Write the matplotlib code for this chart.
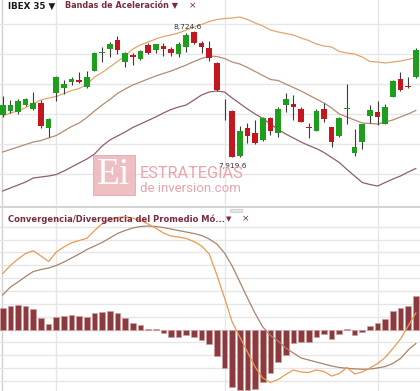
import matplotlib
matplotlib.use("Agg")
import matplotlib.pyplot as plt
from matplotlib.patches import Rectangle
import numpy as np

# IBEX 35 daily candles (price units)
opens = [8187.9, 8215.3, 8208.9, 8251.8, 8224.3, 8262.6, 8106.7, 8326.5, 8362.3, 8398.7,
         8411.5, 8368.7, 8470.9, 8582.1, 8607.6, 8667.1, 8528.4, 8571.2, 8543.7, 8635.1,
         8603.2, 8628.7, 8607.6, 8575.7, 8620.4, 8720.1, 8646.0, 8617.8, 8522.0, 8224.3,
         8215.3, 7925.0, 8106.7, 8075.4, 8028.1, 8170.6, 8070.9, 8251.8, 8258.1, 8226.2,
         8108.0, 8087.6, 8224.3, 8109.3, 8055.6, 8226.2, 7947.0, 8017.3, 8181.5, 8208.9,
         8130.4, 8304.8, 8416.0, 8373.1, 8428.7]
highs = [8309.3, 8283.7, 8290.0, 8296.5, 8332.9, 8283.7, 8168.7, 8437.0, 8411.5, 8432.6,
         8464.5, 8470.9, 8588.5, 8624.3, 8656.2, 8694.6, 8587.2, 8584.0, 8603.2, 8649.8,
         8641.5, 8646.0, 8620.4, 8652.4, 8709.9, 8724.6, 8662.6, 8660.7, 8526.5, 8288.2,
         8219.8, 8117.6, 8134.8, 8155.9, 8177.0, 8175.1, 8240.9, 8330.3, 8315.6, 8240.9,
         8138.7, 8224.3, 8266.5, 8111.2, 8175.1, 8384.0, 8096.5, 8130.4, 8251.8, 8277.3,
         8258.1, 8411.5, 8464.5, 8432.6, 8614.0]
lows = [8175.1, 8202.6, 8194.3, 8245.4, 8219.8, 8102.9, 8045.4, 8277.3, 8322.0, 8379.5,
        8390.4, 8358.5, 8469.0, 8528.4, 8560.3, 8575.7, 8496.5, 8507.3, 8539.3, 8577.6,
        8582.1, 8564.5, 8564.5, 8556.5, 8592.3, 8641.5, 8582.1, 8534.8, 8344.4, 8155.9,
        7919.6, 7922.0, 8007.1, 8002.6, 8021.7, 8060.1, 8045.4, 8208.9, 8155.9, 8143.1,
        8039.0, 8085.6, 8145.1, 7985.3, 8049.2, 8130.4, 7925.0, 7968.7, 8134.8, 8124.0,
        8127.2, 8301.0, 8344.4, 8362.3, 8427.4]
closes = [8251.8, 8251.8, 8277.3, 8288.2, 8266.5, 8117.6, 8162.3, 8428.7, 8385.9, 8419.8,
          8398.7, 8428.7, 8582.1, 8590.4, 8639.6, 8603.2, 8582.1, 8560.3, 8598.7, 8582.1,
          8639.6, 8607.6, 8585.9, 8639.6, 8699.0, 8646.0, 8620.4, 8550.1, 8347.6, 8224.3,
          7921.4, 8085.6, 8053.7, 8011.0, 8166.8, 8085.6, 8224.3, 8290.1, 8237.1, 8145.1,
          8104.8, 8215.3, 8160.4, 8013.5, 8170.6, 8229.4, 7981.5, 8128.4, 8219.8, 8177.0,
          8237.1, 8407.0, 8347.6, 8369.9, 8603.2]

# Bandas de Aceleracion
upper_band = [8181.5, 8200.6, 8213.4, 8235.8, 8261.3, 8283.7, 8296.5, 8306.1, 8325.2, 8344.4,
              8357.2, 8382.7, 8430.6, 8459.4, 8494.5, 8529.7, 8564.8, 8609.5, 8635.1, 8654.3,
              8673.4, 8689.4, 8699.0, 8711.8, 8730.9, 8750.1, 8766.1, 8785.2, 8798.0, 8804.4,
              8807.6, 8814.0, 8798.0, 8775.7, 8756.5, 8730.9, 8718.2, 8708.6, 8699.0, 8679.8,
              8663.8, 8641.5, 8628.7, 8622.3, 8593.6, 8584.0, 8577.6, 8558.4, 8529.7, 8526.5,
              8520.1, 8526.5, 8532.9, 8542.5, 8555.2]
middle_band = [7951.5, 7967.4, 7983.4, 7999.4, 8015.4, 8024.9, 8040.9, 8056.9, 8085.6, 8114.4,
               8136.8, 8171.9, 8213.4, 8251.8, 8286.9, 8325.2, 8354.0, 8379.5, 8398.7, 8417.9,
               8437.0, 8453.0, 8469.0, 8488.1, 8507.3, 8529.7, 8548.8, 8564.8, 8561.6, 8548.8,
               8526.5, 8513.7, 8491.3, 8465.8, 8440.2, 8414.7, 8408.3, 8385.9, 8363.6, 8341.2,
               8315.6, 8290.1, 8264.5, 8232.6, 8194.3, 8175.1, 8155.9, 8136.8, 8133.6, 8130.4,
               8143.1, 8155.9, 8175.1, 8194.3, 8216.6]
lower_band = [7702.3, 7721.5, 7740.6, 7759.8, 7785.4, 7791.7, 7798.1, 7807.7, 7830.1, 7855.6,
              7881.2, 7906.7, 7938.7, 7989.8, 8028.1, 8053.7, 8079.3, 8108.0, 8130.4, 8152.7,
              8175.1, 8200.6, 8223.0, 8239.0, 8251.8, 8283.7, 8315.6, 8334.8, 8341.2, 8334.8,
              8296.5, 8261.3, 8226.2, 8194.3, 8165.5, 8130.4, 8095.2, 8066.5, 8040.9, 8015.4,
              7993.0, 7973.8, 7948.3, 7916.3, 7884.4, 7839.7, 7798.1, 7756.6, 7743.8, 7734.2,
              7756.6, 7779.0, 7798.1, 7823.7, 7846.1]

# MACD panel
macd = [87.1, 99.6, 109.7, 118.3, 122.6, 114.4, 105.8, 120.6, 128.4, 134.9,
        138.5, 141.9, 154.0, 164.6, 171.9, 174.3, 175.5, 173.5, 170.1, 164.2,
        157.9, 150.2, 145.5, 143.9, 141.6, 136.9, 129.9, 117.5, 84.8, 49.0,
        11.7, -11.7, -35.0, -58.4, -75.5, -82.5, -77.8, -70.0, -63.0, -66.1,
        -66.9, -63.0, -65.4, -72.4, -68.5, -59.1, -69.2, -66.1, -59.9, -52.9,
        -43.6, -29.6, -14.8, 5.4, 25.7]
signal = [53.7, 66.1, 73.9, 82.5, 90.2, 93.4, 95.7, 99.6, 105.0, 111.3,
          117.5, 124.5, 129.9, 135.4, 142.4, 149.4, 154.0, 157.9, 160.3, 161.0,
          160.3, 158.7, 156.4, 154.0, 151.7, 149.4, 146.3, 140.8, 133.0, 119.0,
          98.8, 73.9, 49.0, 24.9, 3.9, -9.3, -17.9, -28.8, -36.6, -44.3,
          -47.5, -50.6, -53.7, -56.8, -59.1, -60.4, -61.2, -61.9, -61.5, -59.9,
          -57.6, -52.9, -45.1, -31.9, -21.8]
hist = [33.0, 37.0, 38.6, 37.0, 31.9, 17.4, 8.6, 19.9, 21.5, 23.0,
        20.5, 19.0, 25.2, 27.7, 29.3, 25.2, 18.4, 10.6, 6.5, 1.2,
        0.6, -5.0, -10.9, -10.9, -8.1, -10.9, -15.9, -22.9, -41.2, -60.4,
        -90.2, -93.4, -94.1, -92.6, -81.2, -68.2, -50.1, -39.7, -20.5, -19.9,
        -19.0, -11.2, -7.5, -15.2, -7.5, 1.5, -8.6, -3.4, 5.4, 9.6,
        15.9, 29.3, 33.9, 36.6, 52.1]

high_mark = (25, 8724.6)
low_mark = (30, 7919.6)
month_lines = [7, 29, 49]
price_grid = [7810.9, 8002.6, 8194.3, 8385.9, 8577.6, 8769.3]
macd_grid = np.arange(-80, 161, 20)

W, H = 420, 391
fig = plt.figure(figsize=(W / 100, H / 100), dpi=100)
fig.patch.set_facecolor('white')


def fx(px):
    return px / W


def fy(py):
    return 1 - py / H


ax1 = fig.add_axes([0, fy(206), 1, 206 / H])
ax2 = fig.add_axes([0, 0, 1, fy(208)])

idx = np.arange(len(closes))
grid_c = '#e6e6e6'

for ax in (ax1, ax2):
    ax.set_xlim(-0.353, 54.55)
    ax.set_xticks([])
    ax.set_yticks([])
    for s in ax.spines.values():
        s.set_visible(False)
    for m in month_lines:
        ax.axvline(m, color=grid_c, lw=1, zorder=0)
    ax.axvline(-0.13, color='#d0d0d0', lw=1, zorder=0)

# ---- top panel
ax1.set_ylim(7606.5, 8922.6)
for g in price_grid:
    ax1.axhline(g, color=grid_c, lw=1, zorder=0)

ax1.plot(idx, upper_band, color='#e3a56c', lw=0.9, zorder=2)
ax1.plot(idx, middle_band, color='#b58b70', lw=0.9, zorder=2)
ax1.plot(idx, lower_band, color='#8e5f6e', lw=0.9, zorder=2)

green, red, dark = '#1d9e1d', '#c3161f', '#333333'
for i in idx:
    o, h, l, c = opens[i], highs[i], lows[i], closes[i]
    if c > o:
        col = green
    elif c < o:
        col = red
    else:
        col = dark
    ax1.vlines(i, l, h, color='#3c3c3c', lw=0.8, zorder=3)
    ax1.bar(i, max(abs(c - o), 5), bottom=min(o, c), width=0.74, color=col,
            lw=0, zorder=4)

ax1.annotate('8,724.6', xy=high_mark, xytext=(-4.3, 3.1), textcoords='offset points',
             ha='center', va='center', fontsize=5.4, color='#333333', zorder=9)
ax1.annotate('7,919.6', xy=low_mark, xytext=(0, -6.6), textcoords='offset points',
             ha='center', va='center', fontsize=5.4, color='#333333', zorder=9)

# ---- bottom panel
ax2.set_ylim(-95.7, 189.1)
for g in macd_grid:
    ax2.axhline(g, color=grid_c, lw=1, zorder=0)
ax2.bar(idx, hist, width=0.74, color='#8b3a3e', edgecolor='#d39c9c', lw=0.5, zorder=2)
ax2.plot(idx, signal, color='#a9846d', lw=0.9, zorder=3)
ax2.plot(idx, macd, color='#ea9a52', lw=0.9, zorder=4)

# panel separator and scroll handle
fig.add_artist(Rectangle((0, fy(208)), 1, 2.5 / H, transform=fig.transFigure,
                         facecolor='#d4d4d4', lw=0, zorder=5))
fig.add_artist(Rectangle((fx(230), fy(212)), 12 / W, 3.5 / H, transform=fig.transFigure,
                         facecolor='#e6e6e6', edgecolor='#c4c4c4', lw=0.5, zorder=5))

# headers
maroon = '#7a2c3c'
fig.text(fx(8), fy(6), 'IBEX 35 \u25bc', fontsize=6.3, fontweight='bold',
         color='#1a1a1a', va='center', ha='left')
fig.text(fx(65), fy(6), 'Bandas de Aceleraci\u00f3n \u25bc', fontsize=5.9,
         fontweight='bold', color=maroon, va='center', ha='left')
fig.text(fx(193), fy(6), '\u00d7', fontsize=6.5, color=maroon, va='center', ha='center')

fig.text(fx(8), fy(219), 'Convergencia/Divergencia del Promedio M\u00f3...', fontsize=6.0,
         fontweight='bold', color=maroon, va='center', ha='left')
fig.text(fx(228.5), fy(219), '\u25bc', fontsize=5, color=maroon, va='center', ha='center')
fig.text(fx(246), fy(219), '\u00d7', fontsize=6.5, color=maroon, va='center', ha='center')

# watermark
pink = '#e9a3ab'
fig.add_artist(Rectangle((fx(92.7), fy(195)), 42.3 / W, 40 / H, transform=fig.transFigure,
                         facecolor='#edb3b8', edgecolor='#e49aa3', lw=0.6, alpha=0.85,
                         zorder=7))
fig.text(fx(114), fy(175), 'Ei', family='Liberation Serif', fontsize=27, color='white',
         ha='center', va='center', zorder=8)
fig.text(fx(140), fy(174), 'ESTRATEGIAS', family='Roboto', fontsize=11.7, color=pink,
         ha='left', va='center', zorder=8)
fig.text(fx(140), fy(188.5), 'de inversion.com', family='Roboto', fontsize=9.5, color=pink,
         ha='left', va='center', zorder=8)

fig.savefig('out.png', dpi=100, facecolor='white')
